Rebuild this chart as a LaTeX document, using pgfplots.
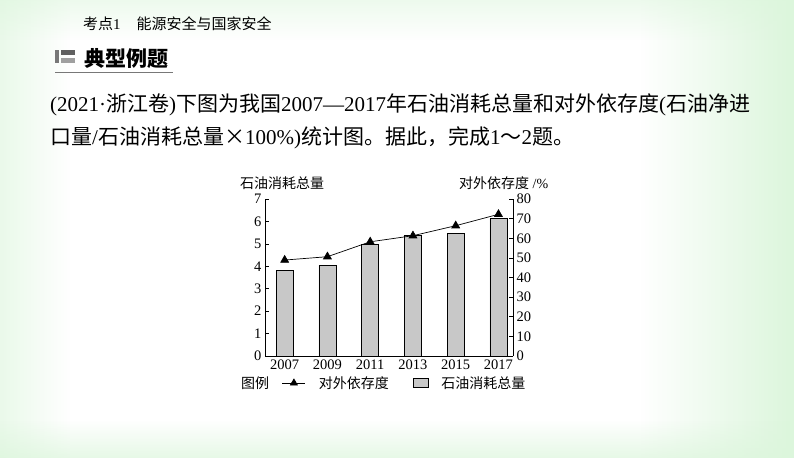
\documentclass[border=0pt]{standalone}
\usepackage{fontspec}
\setmainfont{Liberation Serif}
\newfontfamily\cjk{Noto Sans CJK SC}
\usepackage{pgfplots}
\pgfplotsset{compat=1.18}
\usetikzlibrary{fadings}
\definecolor{bargray}{RGB}{200,200,200}
\definecolor{slidegreen}{RGB}{220,246,220}
\definecolor{icongray}{RGB}{120,120,120}
\newcommand{\C}[1]{{\cjk #1}}
\tikzfading[name=toright, left color=transparent!100, right color=transparent!0]
\tikzfading[name=toleft, left color=transparent!0, right color=transparent!100]
\tikzfading[name=tobottom, top color=transparent!100, bottom color=transparent!0]
\tikzfading[name=totop, top color=transparent!0, bottom color=transparent!100]
\pgfplotsset{
  trileg/.style={legend image code/.code={\draw[mark repeat=2,mark phase=2,##1]
      plot coordinates {(0pt,0pt)(11.5pt,0pt)(23pt,0pt)};}},
  boxleg/.style={legend image code/.code={\draw[##1] (0pt,-4.5pt) rectangle (15pt,4.5pt);}},
}

\begin{document}
\begin{tikzpicture}[x=1pt,y=-1pt]
\useasboundingbox (0,0) rectangle (794,458);
% slide background
\fill[white] (0,0) rectangle (794,458);
\fill[slidegreen, path fading=toright] (640,0) rectangle (794,458);
\fill[slidegreen, path fading=toleft, opacity=0.6] (0,0) rectangle (70,458);
\fill[slidegreen, path fading=tobottom, opacity=0.7] (0,420) rectangle (794,458);
\fill[slidegreen, path fading=totop, opacity=0.5] (0,0) rectangle (794,40);

% header
\node[anchor=west,inner sep=0,font=\fontsize{15}{18}\selectfont] at (83,24)
  {\C{考点}1\hspace{16pt}\C{能源安全与国家安全}};
\fill[icongray] (55,50) rectangle (59,63);
\fill[icongray!80!black] (61,50) rectangle (75,55);
\fill[icongray!70] (61,57.5) rectangle (75,63);
\fill[icongray] (55,71.5) rectangle (173,73);
\node[anchor=west,inner sep=0,font=\fontsize{21}{24}\selectfont\cjk\bfseries] at (84,58) {典型例题};

\node[anchor=west,inner sep=0,font=\fontsize{21}{24}\selectfont] at (50,105)
  {(2021·\C{浙江卷})\C{下图为我国}2007—2017\C{年石油消耗总量和对外依存度}(\C{石油净进}};
\node[anchor=west,inner sep=0,font=\fontsize{21}{24}\selectfont] at (50,138)
  {\C{口量}/\C{石油消耗总量×}100\%)\C{统计图。据此，完成}1\C{～}2\C{题。}};

% chart titles
\node[anchor=west,inner sep=0,font=\fontsize{14}{16}\selectfont\cjk] at (240,183) {石油消耗总量};
\node[anchor=west,inner sep=0,font=\fontsize{14}{16}\selectfont] at (459,183) {\C{对外依存度} /\%};
\node[anchor=west,inner sep=0,font=\fontsize{14}{16}\selectfont\cjk] at (241,383) {图例};

\begin{axis}[
    at={(265pt,-356pt)}, anchor=south west,
    scale only axis, width=248pt, height=157pt,
    xmin=-0.46, xmax=5.34, ymin=0, ymax=7,
    axis y line*=left, axis x line*=bottom,
    axis line style={-, black, line width=0.6pt},
    xtick={0,...,5},
    xticklabels={2007,2009,2011,2013,2015,2017},
    x tick style={draw=none},
    ytick={0,...,7},
    tick align=inside, major tick length=4pt,
    tick style={black, line width=0.6pt},
    ticklabel style={font=\fontsize{14.5}{16}\selectfont},
    /pgf/number format/assume math mode=true,
    legend style={draw=none, fill=none, at={(0.068,-0.172)}, anchor=west,
        font=\fontsize{14}{16}\selectfont\cjk, inner sep=0pt,
        /tikz/every odd column/.append style={column sep=11pt},
        /tikz/every even column/.append style={column sep=22pt}},
    legend columns=2,
]
\addlegendimage{black, line width=0.7pt, mark=triangle*, mark size=4pt, trileg}
\addlegendentry{对外依存度}
\addplot[ybar, bar width=17pt, fill=bargray, draw=black, line width=0.6pt, boxleg]
    coordinates {(0,3.83)(1,4.04)(2,4.99)(3,5.36)(4,5.48)(5,6.12)};
\addlegendentry{石油消耗总量}
\end{axis}

\begin{axis}[
    at={(265pt,-356pt)}, anchor=south west,
    scale only axis, width=248pt, height=157pt,
    xmin=-0.46, xmax=5.34, ymin=0, ymax=80,
    axis y line*=right, axis x line=none,
    axis line style={-, black, line width=0.6pt},
    ytick={0,10,...,80},
    tick align=inside, major tick length=4pt,
    tick style={black, line width=0.6pt},
    ticklabel style={font=\fontsize{14.5}{16}\selectfont},
    /pgf/number format/assume math mode=true,
    clip=false,
]
\addplot[black, line width=0.7pt, mark=triangle*, mark size=4.5pt]
    coordinates {(0,48.9)(1,50.6)(2,58.2)(3,61.3)(4,66.4)(5,72.2)};
\end{axis}
\end{tikzpicture}
\end{document}
